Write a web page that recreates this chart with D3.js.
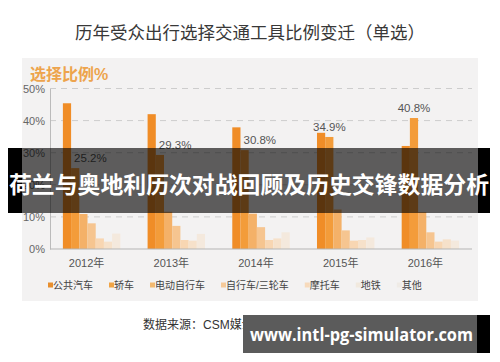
<!DOCTYPE html>
<html>
<head>
<meta charset="utf-8">
<script src="https://cdn.jsdelivr.net/npm/d3@7"></script>
<style>
  body { margin: 0; background: #fff; }
  svg { display: block; font-family: "Liberation Sans", "Noto Sans CJK SC", sans-serif; }
</style>
</head>
<body>
<div id="chart"></div>
<script>
const years = ['2012年', '2013年', '2014年', '2015年', '2016年'];
const modes = ['公共汽车', '轿车', '电动自行车', '自行车/三轮车', '摩托车', '地铁', '其他'];
const bus = [45.4, 42.0, 37.9, 36.2, 32.1];
const car = [25.2, 29.3, 30.8, 34.9, 40.8];
const ebike = [10.9, 11.6, 11.0, 12.3, 11.5];
const bike = [8.0, 7.2, 6.8, 5.8, 5.2];
const moto = [3.3, 2.8, 2.8, 2.6, 2.3];
const metro = [2.3, 2.6, 3.3, 2.8, 3.0];
const other = [4.8, 4.7, 5.2, 3.6, 2.6];
const yTicks = [0, 10, 20, 30, 40, 50];

const series = [bus, car, ebike, bike, moto, metro, other];
const colors = ['#f08d27', '#f39c3a', '#f4b168', '#f6c590', '#f8d6b2', '#f6e1ca', '#f4e9dd'];
const legendColors = ['#e88f2e', '#f0a445', '#f3b96f', '#f5ca99', '#f7dabb', '#f1e9de', '#efebe6'];

const width = 500, height = 362;

const svg = d3.select('#chart')
    .append('svg')
    .attr('width', width)
    .attr('height', height);

// title
svg.append('text')
    .attr('x', 250).attr('y', 39)
    .attr('text-anchor', 'middle')
    .attr('font-size', 17.5)
    .attr('fill', '#383838')
    .text('历年受众出行选择交通工具比例变迁（单选）');

// grey panel
svg.append('rect')
    .attr('x', 22).attr('y', 58)
    .attr('width', 456).attr('height', 243)
    .attr('fill', '#f3f2f2');

svg.append('text')
    .attr('x', 30).attr('y', 80)
    .attr('font-size', 16)
    .attr('font-weight', 'bold')
    .attr('fill', '#eda44d')
    .text('选择比例%');

const y = d3.scaleLinear()
    .domain([0, 50])
    .range([249, 88.5]);

const x0 = d3.scaleBand()
    .domain(years)
    .range([49, 473])
    .paddingInner(0.322)
    .paddingOuter(0.164);

const x1 = d3.scaleBand()
    .domain(d3.range(modes.length))
    .range([0, x0.bandwidth()]);

// gridlines
svg.append('g')
    .selectAll('line')
    .data(yTicks.filter(d => d > 0))
    .join('line')
        .attr('x1', 50).attr('x2', 472)
        .attr('y1', d => y(d)).attr('y2', d => y(d))
        .attr('stroke', '#cdcdcd')
        .attr('stroke-dasharray', '6,5');

// y axis
const yAxis = svg.append('g')
    .attr('transform', 'translate(50,0)')
    .call(d3.axisLeft(y).tickValues(yTicks).tickFormat(d => d + '%').tickSize(0).tickPadding(5));
yAxis.select('.domain').attr('stroke', '#bbb');
yAxis.selectAll('text').attr('font-size', 11).attr('fill', '#666').attr('font-family', null);

// bars
const groups = svg.append('g')
    .selectAll('g')
    .data(years)
    .join('g')
        .attr('transform', d => `translate(${x0(d)},0)`);

groups.selectAll('rect')
    .data((yr, yi) => series.map((s, si) => ({si, v: s[yi]})))
    .join('rect')
        .attr('x', d => x1(d.si))
        .attr('y', d => y(d.v))
        .attr('width', x1.bandwidth())
        .attr('height', d => y(0) - y(d.v))
        .attr('fill', d => colors[d.si]);

// labels on car bars
groups.append('text')
    .attr('x', (yr, i) => bus[i] > car[i] + 3 ? x1(1) + 3 : x1(1) + x1.bandwidth() / 2)
    .attr('y', (yr, i) => y(car[i]) - 6)
    .attr('text-anchor', (yr, i) => bus[i] > car[i] + 3 ? 'start' : 'middle')
    .attr('font-size', 11.5)
    .attr('fill', '#555')
    .text((yr, i) => car[i].toFixed(1) + '%');

// baseline
svg.append('line')
    .attr('x1', 50).attr('x2', 472)
    .attr('y1', y(0)).attr('y2', y(0))
    .attr('stroke', '#b5b5b5');

// x labels
svg.append('g')
    .selectAll('text')
    .data(years)
    .join('text')
        .attr('x', d => x0(d) + x0.bandwidth() / 2 - 5)
        .attr('y', 267)
        .attr('text-anchor', 'middle')
        .attr('font-size', 11)
        .attr('fill', '#555')
        .text(d => d);

// legend
let lx = 48;
const legend = svg.append('g');
modes.forEach((m, i) => {
    legend.append('rect')
        .attr('x', lx).attr('y', 282.5)
        .attr('width', 5).attr('height', 5)
        .attr('fill', legendColors[i]);
    const t = legend.append('text')
        .attr('x', lx + 5).attr('y', 289)
        .attr('font-size', 10)
        .attr('fill', '#444')
        .text(m);
    lx += 5 + t.node().getComputedTextLength() + 16;
});

// source
svg.append('text')
    .attr('x', 143).attr('y', 329)
    .attr('font-size', 12)
    .attr('fill', '#333')
    .text('数据来源：CSM媒介研究历年基础研究数据');

// banner overlay
svg.append('rect')
    .attr('x', 8).attr('y', 148).attr('width', 14).attr('height', 65)
    .attr('fill', '#000');
svg.append('rect')
    .attr('x', 478).attr('y', 148).attr('width', 12).attr('height', 65)
    .attr('fill', '#000');
svg.append('rect')
    .attr('x', 22).attr('y', 148).attr('width', 456).attr('height', 65)
    .attr('fill', 'rgba(0,0,0,0.62)');
svg.append('text')
    .attr('x', 9).attr('y', 193)
    .attr('font-size', 22.5)
    .attr('font-weight', 'bold')
    .attr('fill', '#fff')
    .attr('font-family', '"Noto Sans CJK SC", sans-serif')
    .attr('textLength', 480)
    .attr('lengthAdjust', 'spacingAndGlyphs')
    .text('荷兰与奥地利历次对战回顾及历史交锋数据分析');

// watermark box
svg.append('rect')
    .attr('x', 243).attr('y', 315).attr('width', 234).attr('height', 38)
    .attr('fill', '#5b5b5b');
svg.append('rect')
    .attr('x', 477).attr('y', 315).attr('width', 13).attr('height', 38)
    .attr('fill', '#000');
svg.append('text')
    .attr('x', 250).attr('y', 341)
    .attr('font-size', 17)
    .attr('font-weight', 'bold')
    .attr('fill', '#fff')
    .attr('font-family', '"Open Sans", sans-serif')
    .attr('textLength', 223)
    .attr('lengthAdjust', 'spacingAndGlyphs')
    .text('www.intl-pg-simulator.com');
</script>
</body>
</html>
